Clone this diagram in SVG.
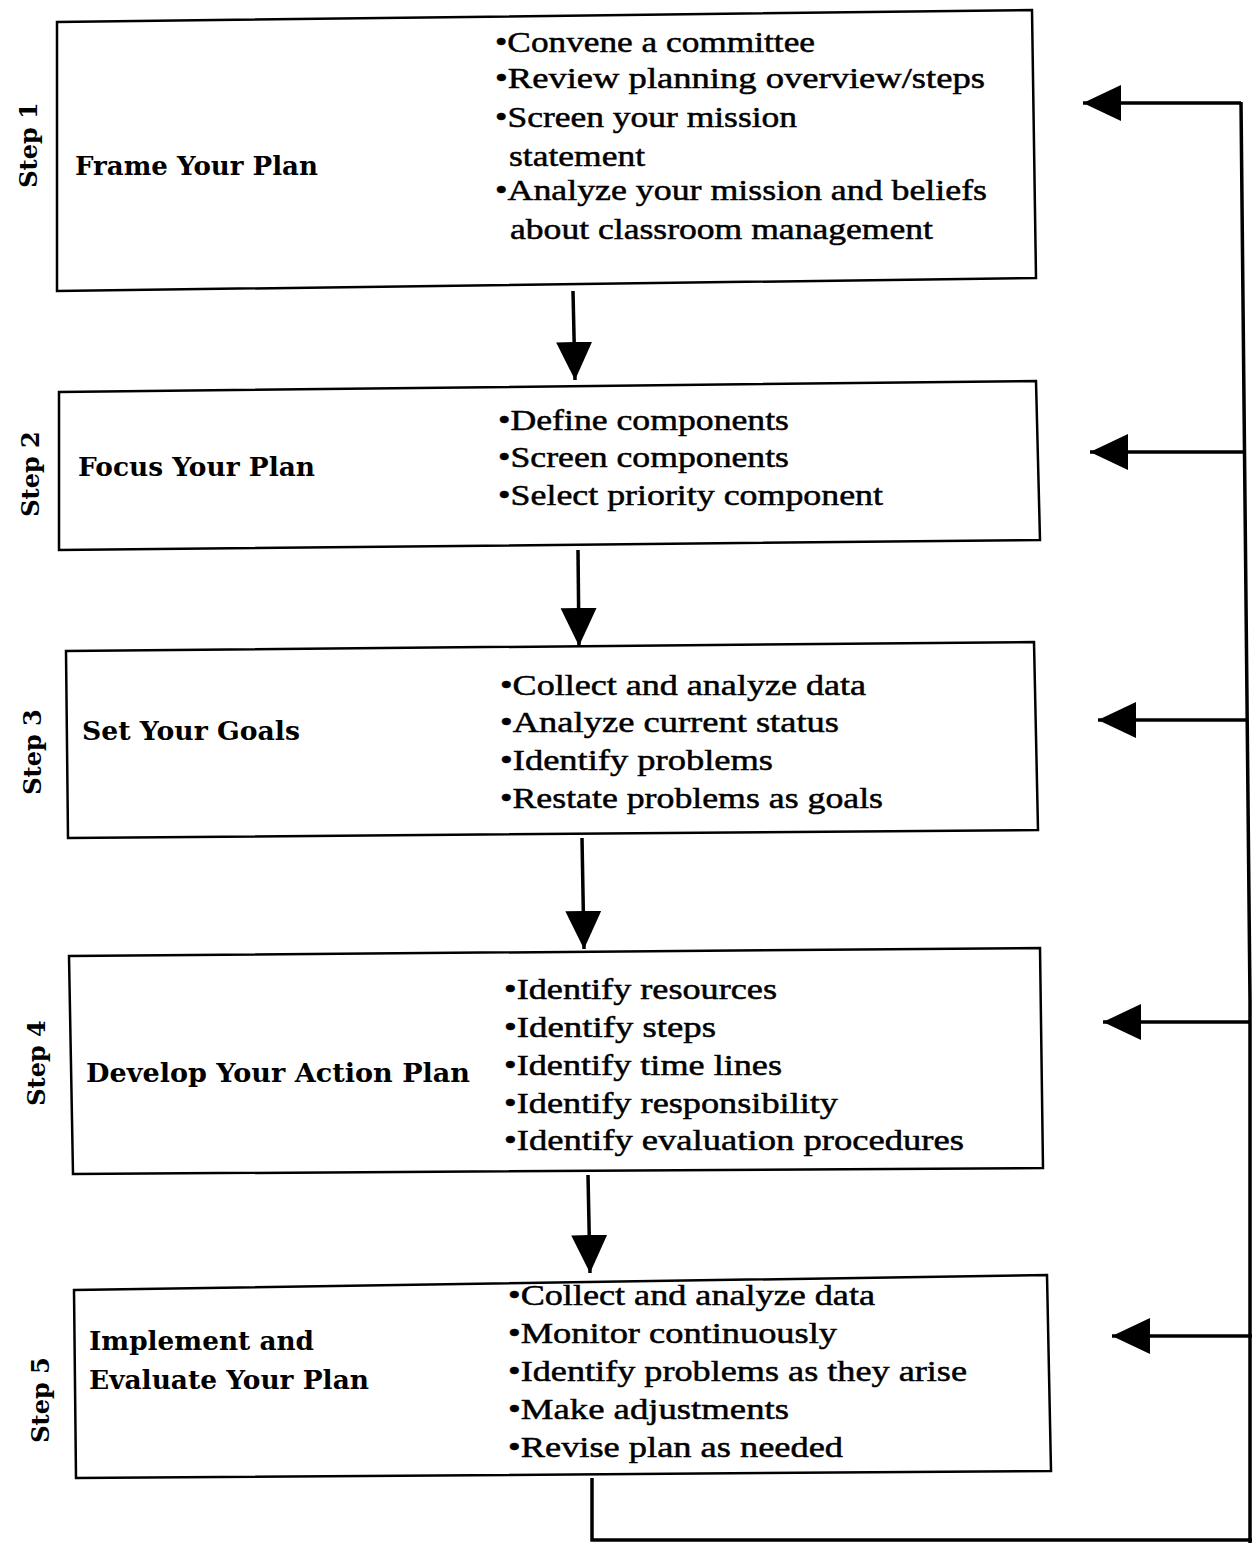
<svg xmlns="http://www.w3.org/2000/svg" width="1252" height="1543" viewBox="0 0 1252 1543">
<style>
.box{fill:#fff;stroke:#000;stroke-width:2.5}
.lbl{font-family:"DejaVu Serif","Liberation Serif",serif;font-weight:bold;font-size:26px;fill:#000}
.bul{font-family:"Liberation Serif","DejaVu Serif",serif;font-size:30px;fill:#000;stroke:#000;stroke-width:0.5}
.step{font-family:"DejaVu Serif","Liberation Serif",serif;font-weight:bold;font-size:24px;fill:#000}
.con{fill:none;stroke:#000;stroke-width:3.5}
</style>
<defs>
<marker id="ah" markerUnits="userSpaceOnUse" markerWidth="40" markerHeight="38" refX="38" refY="18" orient="auto" viewBox="0 0 40 38">
<path d="M0,0 L38,18 L0,36 z" fill="#000"/>
</marker>
</defs>
<rect width="1252" height="1543" fill="#fff"/>

<g id="step1">
<polygon class="box" points="57,22 1032,10 1036,278 57,291"/>
<text class="step" transform="translate(28,145) rotate(-90)" text-anchor="middle" dominant-baseline="central">Step 1</text>
<text class="lbl" x="75" y="175" textLength="243" lengthAdjust="spacingAndGlyphs">Frame Your Plan</text>
<text class="bul" x="495" y="52" textLength="320" lengthAdjust="spacingAndGlyphs">•Convene a committee</text>
<text class="bul" x="495" y="88" textLength="490" lengthAdjust="spacingAndGlyphs">•Review planning overview/steps</text>
<text class="bul" x="495" y="127" textLength="302" lengthAdjust="spacingAndGlyphs">•Screen your mission</text>
<text class="bul" x="509" y="166" textLength="136" lengthAdjust="spacingAndGlyphs">statement</text>
<text class="bul" x="495" y="200" textLength="492" lengthAdjust="spacingAndGlyphs">•Analyze your mission and beliefs</text>
<text class="bul" x="510" y="239" textLength="423" lengthAdjust="spacingAndGlyphs">about classroom management</text>
</g>

<g id="step2">
<polygon class="box" points="59,392 1036,381 1040,540 59,550"/>
<text class="step" transform="translate(30,474) rotate(-90)" text-anchor="middle" dominant-baseline="central">Step 2</text>
<text class="lbl" x="78" y="476" textLength="237" lengthAdjust="spacingAndGlyphs">Focus Your Plan</text>
<text class="bul" x="498" y="430" textLength="291" lengthAdjust="spacingAndGlyphs">•Define components</text>
<text class="bul" x="498" y="467" textLength="291" lengthAdjust="spacingAndGlyphs">•Screen components</text>
<text class="bul" x="498" y="505" textLength="385" lengthAdjust="spacingAndGlyphs">•Select priority component</text>
</g>

<g id="step3">
<polygon class="box" points="66,651 1034,642 1038,830 68,838"/>
<text class="step" transform="translate(32,752) rotate(-90)" text-anchor="middle" dominant-baseline="central">Step 3</text>
<text class="lbl" x="82" y="740" textLength="218" lengthAdjust="spacingAndGlyphs">Set Your Goals</text>
<text class="bul" x="500" y="695" textLength="366" lengthAdjust="spacingAndGlyphs">•Collect and analyze data</text>
<text class="bul" x="500" y="732" textLength="339" lengthAdjust="spacingAndGlyphs">•Analyze current status</text>
<text class="bul" x="500" y="770" textLength="273" lengthAdjust="spacingAndGlyphs">•Identify problems</text>
<text class="bul" x="500" y="808" textLength="383" lengthAdjust="spacingAndGlyphs">•Restate problems as goals</text>
</g>

<g id="step4">
<polygon class="box" points="69,956 1040,948 1043,1168 73,1174"/>
<text class="step" transform="translate(36,1063) rotate(-90)" text-anchor="middle" dominant-baseline="central">Step 4</text>
<text class="lbl" x="86" y="1082" textLength="384" lengthAdjust="spacingAndGlyphs">Develop Your Action Plan</text>
<text class="bul" x="504" y="999" textLength="273" lengthAdjust="spacingAndGlyphs">•Identify resources</text>
<text class="bul" x="504" y="1037" textLength="212" lengthAdjust="spacingAndGlyphs">•Identify steps</text>
<text class="bul" x="504" y="1075" textLength="278" lengthAdjust="spacingAndGlyphs">•Identify time lines</text>
<text class="bul" x="504" y="1113" textLength="334" lengthAdjust="spacingAndGlyphs">•Identify responsibility</text>
<text class="bul" x="504" y="1150" textLength="460" lengthAdjust="spacingAndGlyphs">•Identify evaluation procedures</text>
</g>

<g id="step5">
<polygon class="box" points="74,1290 1047,1275 1051,1471 76,1478"/>
<text class="step" transform="translate(40,1400) rotate(-90)" text-anchor="middle" dominant-baseline="central">Step 5</text>
<text class="lbl" x="89" y="1350" textLength="225" lengthAdjust="spacingAndGlyphs">Implement and</text>
<text class="lbl" x="89" y="1389" textLength="280" lengthAdjust="spacingAndGlyphs">Evaluate Your Plan</text>
<text class="bul" x="508" y="1305" textLength="367" lengthAdjust="spacingAndGlyphs">•Collect and analyze data</text>
<text class="bul" x="508" y="1343" textLength="329" lengthAdjust="spacingAndGlyphs">•Monitor continuously</text>
<text class="bul" x="508" y="1381" textLength="459" lengthAdjust="spacingAndGlyphs">•Identify problems as they arise</text>
<text class="bul" x="508" y="1419" textLength="281" lengthAdjust="spacingAndGlyphs">•Make adjustments</text>
<text class="bul" x="508" y="1457" textLength="335" lengthAdjust="spacingAndGlyphs">•Revise plan as needed</text>
</g>

<g id="connectors">
<line class="con" x1="573" y1="291" x2="575" y2="380" marker-end="url(#ah)"/>
<line class="con" x1="578" y1="550" x2="579" y2="646" marker-end="url(#ah)"/>
<line class="con" x1="582" y1="838" x2="584" y2="949" marker-end="url(#ah)"/>
<line class="con" x1="588" y1="1175" x2="590" y2="1273" marker-end="url(#ah)"/>
<path class="con" d="M592,1478 V1540 H1252"/>
<path class="con" d="M1241,102 L1250,1000 V1543"/>
<line class="con" x1="1241" y1="103" x2="1083" y2="103" marker-end="url(#ah)"/>
<line class="con" x1="1245" y1="452" x2="1090" y2="452" marker-end="url(#ah)"/>
<line class="con" x1="1248" y1="720" x2="1098" y2="720" marker-end="url(#ah)"/>
<line class="con" x1="1250" y1="1022" x2="1103" y2="1022" marker-end="url(#ah)"/>
<line class="con" x1="1252" y1="1336" x2="1112" y2="1336" marker-end="url(#ah)"/>
</g>
</svg>
